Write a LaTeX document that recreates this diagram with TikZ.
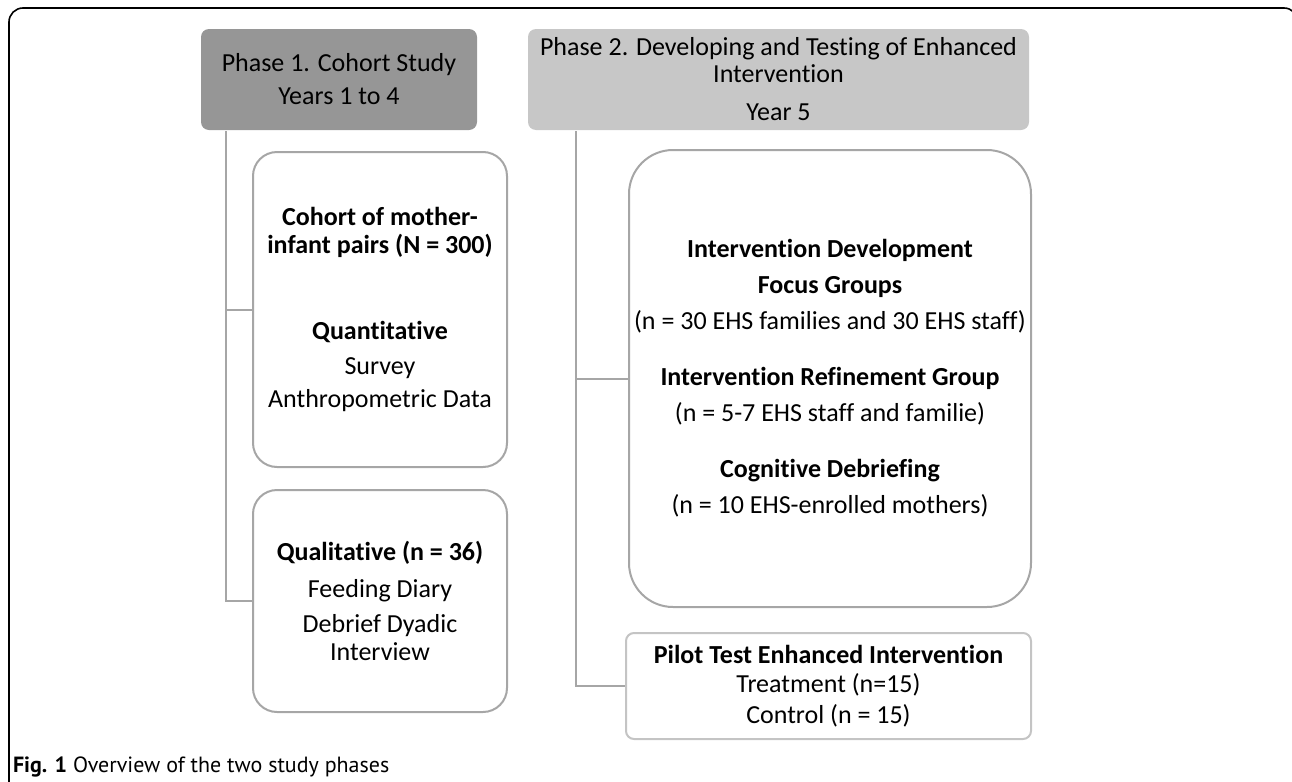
\documentclass[tikz,border=0pt]{standalone}
\usepackage{fontspec}
\setmainfont{Carlito}[RawFeature={-liga;-clig;-calt;-dlig}]
\newfontfamily\capfont{PT Sans}
\usetikzlibrary{positioning}
\definecolor{phaseonegray}{RGB}{150,150,150}
\definecolor{phasetwogray}{RGB}{199,199,199}
\definecolor{linegray}{RGB}{166,166,166}
\definecolor{pilotgray}{RGB}{196,196,196}

\begin{document}
\begin{tikzpicture}[x=0.5pt, y=-0.5pt, line width=1pt,
        phase/.style ={rectangle, rounded corners=4pt, inner sep=0pt, align=center,
        font=\fontsize{13}{16.5}\selectfont},
        study/.style ={rectangle, draw=linegray, fill=white, inner sep=0pt, align=center,
        font=\fontsize{13}{16.5}\selectfont},
        link/.style ={draw=linegray, line width=1pt}]

    \clip (0,0) rectangle (1292,782);

    %marco de la figura
    \draw[black, line width=0.8pt, rounded corners=7pt] (9,800) -- (9,8) -- (1298,8) -- (1298,60);

    %\node [estilo] (nombre) at (x,y) {texto};
    \node[phase, fill=phaseonegray, minimum width=138pt, minimum height=50.5pt] (p1) at (339,79.5)
        {Phase 1. Cohort Study\\Years 1 to 4};
    \node[phase, fill=phasetwogray, minimum width=250.5pt, minimum height=50.5pt] (p2) at (778.5,79.5)
        {Phase 2. Developing and Testing of Enhanced\\[-3pt]Intervention\\[2.5pt]Year 5};

    \node[study, rounded corners=12pt, minimum width=127pt, minimum height=157.5pt] (c1) at (380,309.5)
        {\textbf{Cohort of mother-}\\[-2.5pt]\textbf{infant pairs (N = 300)}\\[26.5pt]
         \textbf{Quantitative}\\[1pt]Survey\\Anthropometric Data};
    \node[study, rounded corners=12pt, minimum width=127pt, minimum height=111pt] (q1) at (380,601)
        {\textbf{Qualitative (n = 36)}\\[2pt]Feeding Diary\\[1pt]Debrief Dyadic\\[-2.5pt]Interview};

    \node[study, rounded corners=22pt, minimum width=201pt, minimum height=228.5pt] (d1) at (830,378.5)
        {\textbf{Intervention Development}\\[1.5pt]\textbf{Focus Groups}\\[1.5pt]
         (n = 30 EHS families and 30 EHS staff)\\[11.5pt]
         \textbf{Intervention Refinement Group}\\[1.5pt](n = 5-7 EHS staff and familie)\\[11.5pt]
         \textbf{Cognitive Debriefing}\\[1.5pt](n = 10 EHS-enrolled mothers)};
    \node[study, draw=pilotgray, rounded corners=4pt, minimum width=202.5pt, minimum height=53pt] (t1) at (828.5,686)
        {\textbf{Pilot Test Enhanced Intervention}\\[-2pt]Treatment (n=15)\\[-1pt]Control (n = 15)};

    %lineas de cada fase
    \coordinate (b1) at ([xshift=13pt]p1.south west);
    \coordinate (b2) at ([xshift=24.5pt]p2.south west);

    \draw[link] (b1) |- (c1.west);
    \draw[link] (b1) |- (q1.west);
    \draw[link] (b2) |- (d1.west);
    \draw[link] (b2) |- (t1.west);

    \node[anchor=base west, inner sep=0pt, font=\capfont\fontsize{11}{13}\selectfont] (cap) at (12,772)
        {\textbf{Fig. 1} Overview of the two study phases};
\end{tikzpicture}
\end{document}
